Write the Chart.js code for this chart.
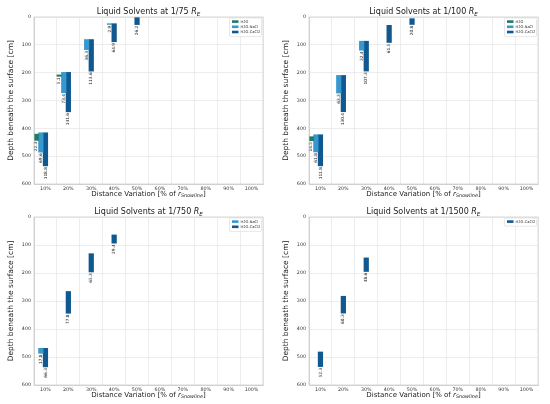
<!DOCTYPE html>
<html><head><meta charset="utf-8">
<script src="https://cdn.jsdelivr.net/npm/chart.js@4.4.0/dist/chart.umd.min.js"></script>
<style>
html,body{margin:0;padding:0;background:#fff;}
#wrap{position:relative;width:550px;height:404px;overflow:hidden;}
canvas{position:absolute;}
</style></head><body>
<div id="wrap">
<canvas id="c1" width="275" height="200" style="left:0;top:0"></canvas>
<canvas id="c2" width="275" height="200" style="left:275px;top:0"></canvas>
<canvas id="c3" width="275" height="204" style="left:0;top:200px"></canvas>
<canvas id="c4" width="275" height="204" style="left:275px;top:200px"></canvas>
</div>
<script>
const categories = ['10%','20%','30%','40%','50%','60%','70%','80%','90%','100%'];
const yTickValues = [0,100,200,300,400,500,600];
const seriesNames = ['H2O','H2O-NaCl','H2O-CaCl2'];
const seriesColors = ['#1d7b67','#3797cf','#0f5990'];

// 1/75 R_E : start depth and thickness [cm]
const r75_H2O_top   = [421, 208, null, null, null, null, null, null, null, null];
const r75_H2O_len   = [22.3, 5.1, null, null, null, null, null, null, null, null];
const r75_NaCl_top  = [416, 199, 81, 24, null, null, null, null, null, null];
const r75_NaCl_len  = [69.6, 73.4, 36.3, 2.9, null, null, null, null, null, null];
const r75_CaCl2_top = [416, 199, 81, 24, 1, null, null, null, null, null];
const r75_CaCl2_len = [118.8, 141.6, 113.6, 64.9, 26.2, null, null, null, null, null];

// 1/100 R_E
const r100_H2O_top   = [430, null, null, null, null, null, null, null, null, null];
const r100_H2O_len   = [14.5, null, null, null, null, null, null, null, null, null];
const r100_NaCl_top  = [423, 210, 87, null, null, null, null, null, null, null];
const r100_NaCl_len  = [61.8, 63.3, 32.4, null, null, null, null, null, null, null];
const r100_CaCl2_top = [423, 210, 87, 30, 6, null, null, null, null, null];
const r100_CaCl2_len = [111.8, 130.4, 107.3, 61.5, 20.8, null, null, null, null, null];

// 1/750 R_E
const r750_NaCl_top  = [469, null, null, null, null, null, null, null, null, null];
const r750_NaCl_len  = [17.8, null, null, null, null, null, null, null, null, null];
const r750_CaCl2_top = [469, 266, 131, 64, null, null, null, null, null, null];
const r750_CaCl2_len = [66.3, 77.8, 65.3, 29.4, null, null, null, null, null, null];

// 1/1500 R_E
const r1500_CaCl2_top = [482, 283, 146, null, null, null, null, null, null, null];
const r1500_CaCl2_len = [52.3, 60.3, 48.6, null, null, null, null, null, null, null];

const FONT = "'DejaVu Sans', sans-serif";
const empty = categories.map(() => null);

function floating(top, len) {
  return top.map((t, i) => (t == null ? null : [t, t + len[i]]));
}

function drawTitleParts(ctx, parts, cx, cy) {
  // parts: [{text, size, italic, dy}]
  let total = 0;
  parts.forEach(p => {
    ctx.font = (p.italic ? 'italic ' : '') + p.size + 'px ' + FONT;
    p.w = ctx.measureText(p.text).width;
    total += p.w;
  });
  let x = cx - total / 2;
  parts.forEach(p => {
    ctx.font = (p.italic ? 'italic ' : '') + p.size + 'px ' + FONT;
    ctx.fillText(p.text, x, cy + (p.dy || 0));
    x += p.w;
  });
}

const decorPlugin = {
  id: 'decor',
  afterDatasetsDraw(chart) {
    const ctx = chart.ctx;
    const a = chart.chartArea;
    const cfg = chart.options.plugins.decor;
    ctx.save();
    // value labels
    ctx.fillStyle = '#222';
    ctx.font = '4.3px ' + FONT;
    ctx.textAlign = 'right';
    ctx.textBaseline = 'middle';
    chart.data.datasets.forEach((ds, di) => {
      if (!ds.lens) return;
      const meta = chart.getDatasetMeta(di);
      meta.data.forEach((el, j) => {
        if (ds.data[j] == null) return;
        const bottom = Math.max(el.y, el.base);
        ctx.save();
        ctx.translate(el.x, bottom + 1.2);
        ctx.rotate(-Math.PI / 2);
        ctx.fillText(ds.lens[j].toFixed(1), 0, 0);
        ctx.restore();
      });
    });
    ctx.restore();
  },
  afterDraw(chart) {
    const ctx = chart.ctx;
    const a = chart.chartArea;
    const cfg = chart.options.plugins.decor;
    ctx.save();
    // frame
    ctx.strokeStyle = '#d0d0d0';
    ctx.lineWidth = 0.8;
    ctx.strokeRect(a.left, a.top, a.right - a.left, a.bottom - a.top);
    // title
    ctx.fillStyle = '#1a1a1a';
    ctx.textBaseline = 'alphabetic';
    ctx.textAlign = 'left';
    const cx = (a.left + a.right) / 2;
    drawTitleParts(ctx, [
      {text: 'Liquid Solvents at ' + cfg.ratio + ' ', size: 8},
      {text: 'R', size: 8, italic: true},
      {text: 'E', size: 5.6, italic: true, dy: 1.5}
    ], cx, a.top - 3);
    // x title
    drawTitleParts(ctx, [
      {text: 'Distance Variation [% of ', size: 7},
      {text: 'r', size: 7, italic: true},
      {text: 'Snowline', size: 4.9, italic: true, dy: 1.3},
      {text: ']', size: 7}
    ], cx, a.bottom + cfg.xTitleDy);
    // y title
    ctx.save();
    ctx.translate(12.5, (a.top + a.bottom) / 2);
    ctx.rotate(-Math.PI / 2);
    ctx.textAlign = 'center';
    ctx.font = '7.5px ' + FONT;
    ctx.fillText('Depth beneath the surface [cm]', 0, 0);
    ctx.restore();
    // legend
    const items = chart.data.datasets.filter(d => d.inLegend);
    const n = items.length;
    const lx = a.right - 33.5, ly = a.top + 1;
    const lw = 32, lh = 3 + n * 5.2;
    ctx.fillStyle = 'rgba(255,255,255,0.85)';
    ctx.strokeStyle = '#d6d6d6';
    ctx.lineWidth = 0.6;
    ctx.beginPath();
    ctx.roundRect(lx, ly, lw, lh, 1.5);
    ctx.fill();
    ctx.stroke();
    ctx.font = '3.6px ' + FONT;
    ctx.textBaseline = 'middle';
    ctx.textAlign = 'left';
    items.forEach((d, k) => {
      const yy = ly + 3.6 + k * 5.2;
      ctx.fillStyle = d.backgroundColor;
      ctx.fillRect(lx + 2.5, yy - 1.3, 6.5, 2.6);
      ctx.fillStyle = '#222';
      ctx.fillText(d.label, lx + 11, yy);
    });
    ctx.restore();
  }
};

function makeChart(id, ratio, tops, lens, xHeight, xTitleDy) {
  const datasets = [];
  for (let s = 0; s < 3; s++) {
    const has = tops[s] != null;
    datasets.push({
      label: seriesNames[s],
      data: has ? floating(tops[s], lens[s]) : empty,
      lens: has ? lens[s] : null,
      inLegend: has,
      backgroundColor: seriesColors[s],
      borderWidth: 0
    });
  }
  // two empty slots so that the CaCl2 bar sits in the middle of each category
  datasets.push({label: '', data: empty, backgroundColor: 'rgba(0,0,0,0)'});
  datasets.push({label: '', data: empty, backgroundColor: 'rgba(0,0,0,0)'});

  new Chart(document.getElementById(id), {
    type: 'bar',
    data: {labels: categories, datasets},
    plugins: [decorPlugin],
    options: {
      responsive: false,
      animation: false,
      layout: {padding: {left: 0, right: 12, top: 17, bottom: 0}},
      datasets: {bar: {categoryPercentage: 1, barPercentage: 1, grouped: true}},
      plugins: {
        legend: {display: false},
        tooltip: {enabled: false},
        title: {display: false},
        decor: {ratio, xTitleDy}
      },
      scales: {
        x: {
          type: 'category',
          offset: true,
          grid: {offset: true, color: '#e8e8e8', lineWidth: 0.8, drawTicks: false},
          border: {color: '#d0d0d0'},
          ticks: {font: {family: FONT, size: 4.8}, color: '#333', padding: 1.5, maxRotation: 0, autoSkip: false},
          afterFit: s => { s.height = xHeight; }
        },
        y: {
          min: 0, max: 600, reverse: true,
          afterBuildTicks: s => { s.ticks = yTickValues.map(v => ({value: v})); },
          grid: {color: '#e8e8e8', lineWidth: 0.8, drawTicks: false},
          border: {color: '#d0d0d0'},
          ticks: {font: {family: FONT, size: 4.8}, color: '#333', padding: 3},
          afterFit: s => { s.width = 34; }
        }
      }
    }
  });
}

makeChart('c1', '1/75',
  [r75_H2O_top, r75_NaCl_top, r75_CaCl2_top],
  [r75_H2O_len, r75_NaCl_len, r75_CaCl2_len], 16, 12);
makeChart('c2', '1/100',
  [r100_H2O_top, r100_NaCl_top, r100_CaCl2_top],
  [r100_H2O_len, r100_NaCl_len, r100_CaCl2_len], 16, 12);
makeChart('c3', '1/750',
  [null, r750_NaCl_top, r750_CaCl2_top],
  [null, r750_NaCl_len, r750_CaCl2_len], 19, 12);
makeChart('c4', '1/1500',
  [null, null, r1500_CaCl2_top],
  [null, null, r1500_CaCl2_len], 19, 12);
</script>
</body></html>
